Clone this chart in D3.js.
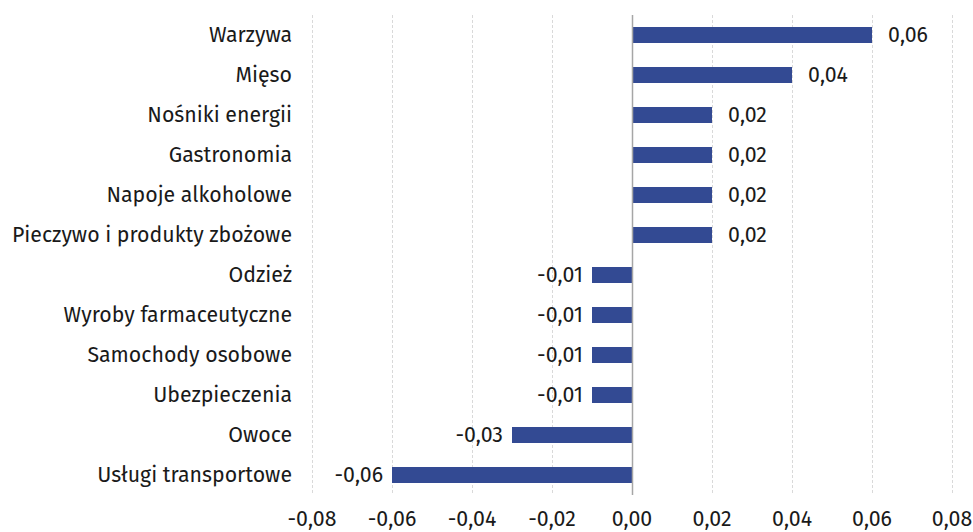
<!DOCTYPE html>
<html><head><meta charset="utf-8">
<script src="https://cdn.jsdelivr.net/npm/d3@7"></script>
<style>body{margin:0;background:#fff;} text{font-family:"Fira Sans","Noto Sans","Open Sans",sans-serif;fill:#1a1a1a;}</style>
</head><body>
<svg id="c" width="973" height="532"></svg>
<script>
const categories = ["Warzywa","Mięso","Nośniki energii","Gastronomia","Napoje alkoholowe","Pieczywo i produkty zbożowe","Odzież","Wyroby farmaceutyczne","Samochody osobowe","Ubezpieczenia","Owoce","Usługi transportowe"];
const values = [0.06,0.04,0.02,0.02,0.02,0.02,-0.01,-0.01,-0.01,-0.01,-0.03,-0.06];
const ticks = [-0.08,-0.06,-0.04,-0.02,0,0.02,0.04,0.06,0.08];

const svg = d3.select("#c");
const x = d3.scaleLinear().domain([-0.08,0.08]).range([312,952]);
const y = d3.scaleBand().domain(categories).range([15,495]).paddingInner(0.6).paddingOuter(0.3);
const fmt = v => d3.format(".2f")(v).replace(".",",").replace("−","-");
const fs = "21.3px";

// gridlines
svg.append("g").selectAll("line").data(ticks.filter(t=>t!==0)).join("line")
  .attr("x1",d=>x(d)+0.5).attr("x2",d=>x(d)+0.5).attr("y1",15).attr("y2",495)
  .attr("stroke","#d9d9d9").attr("stroke-width",1).attr("stroke-dasharray","3,2");

// bars
svg.append("g").selectAll("rect").data(values).join("rect")
  .attr("x",d=>x(Math.min(0,d))).attr("width",d=>Math.abs(x(d)-x(0)))
  .attr("y",(d,i)=>y(categories[i])).attr("height",y.bandwidth())
  .attr("fill","#334a93");

// zero line
svg.append("line").attr("x1",x(0)+0.5).attr("x2",x(0)+0.5).attr("y1",15).attr("y2",495)
  .attr("stroke","#a6a6a6").attr("stroke-width",1.5);

// category labels
svg.append("g").selectAll("text").data(categories).join("text")
  .attr("x",292).attr("y",d=>y(d)+y.bandwidth()/2).attr("dy","0.35em")
  .attr("text-anchor","end").style("font-size",fs).text(d=>d);

// value labels
svg.append("g").selectAll("text").data(values).join("text")
  .attr("x",d=>d>=0 ? x(d)+16 : x(d)-9)
  .attr("y",(d,i)=>y(categories[i])+y.bandwidth()/2).attr("dy","0.35em")
  .attr("text-anchor",d=>d>=0?"start":"end").style("font-size",fs).text(d=>fmt(d));

// x axis tick labels
svg.append("g").selectAll("text").data(ticks).join("text")
  .attr("x",d=>x(d)).attr("y",519).attr("dy","0.35em")
  .attr("text-anchor","middle").style("font-size",fs).text(d=>fmt(d));
</script>
</body></html>
